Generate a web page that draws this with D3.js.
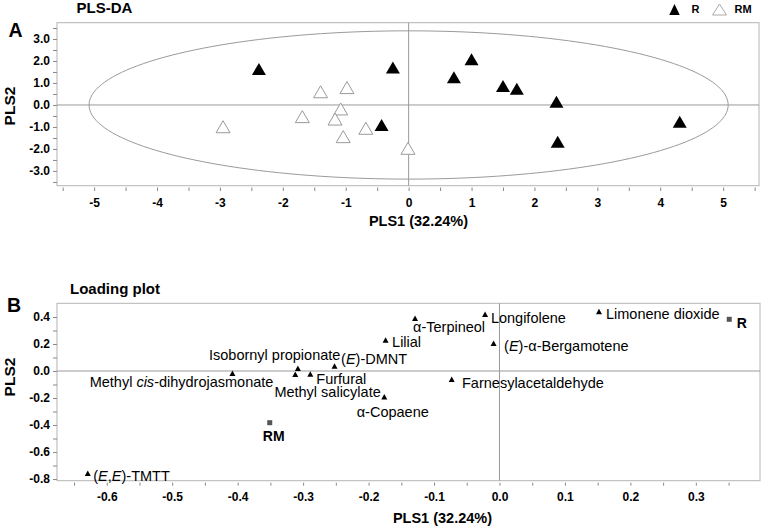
<!DOCTYPE html>
<html>
<head>
<meta charset="utf-8">
<script src="https://cdn.jsdelivr.net/npm/d3@7"></script>
<style>
  html, body { margin: 0; padding: 0; background: #fff; }
  svg { display: block; font-family: Arial, "Liberation Sans", sans-serif; }
</style>
</head>
<body>
<svg id="chart" width="761" height="526"></svg>
<script>
// ---------- DATA ----------
// Panel A: PLS-DA scores
const rScoresX  = [-2.38, -0.25, -0.43, 0.72, 1.00, 1.50, 1.72, 2.35, 2.37, 4.31];
const rScoresY  = [1.64, 1.70, -0.91, 1.26, 2.08, 0.86, 0.74, 0.15, -1.67, -0.76];
const rmScoresX = [-2.95, -1.69, -1.40, -0.98, -1.08, -1.17, -1.04, -0.68, -0.01];
const rmScoresY = [-0.99, -0.53, 0.60, 0.79, -0.18, -0.64, -1.44, -1.06, -1.97];
const ellipseRadii = [5.08, 3.37];
const groupNames = ["R", "RM"];
const xTickLabelsA = ["-5", "-4", "-3", "-2", "-1", "0", "1", "2", "3", "4", "5"];
const yTickLabelsA = ["-3.0", "-2.0", "-1.0", "0.0", "1.0", "2.0", "3.0"];

// Panel B: loading plot
const loadingNames = [
  "(<i>E</i>,<i>E</i>)-TMTT",
  "Methyl <i>cis</i>-dihydrojasmonate",
  "Isobornyl propionate",
  "Methyl salicylate",
  "Furfural",
  "(<i>E</i>)-DMNT",
  "α-Copaene",
  "Lilial",
  "α-Terpineol",
  "Longifolene",
  "(<i>E</i>)-α-Bergamotene",
  "Farnesylacetaldehyde",
  "Limonene dioxide"
];
const loadingX = [-0.629, -0.408, -0.308, -0.312, -0.289, -0.252, -0.176, -0.174, -0.129, -0.022, -0.009, -0.073, 0.152];
const loadingY = [-0.758, -0.017, 0.020, -0.024, -0.022, 0.037, -0.190, 0.230, 0.390, 0.420, 0.205, -0.061, 0.440];
const classNames = ["R", "RM"];
const classX = [0.351, -0.351];
const classY = [0.383, -0.383];
const xTickLabelsB = ["-0.6", "-0.5", "-0.4", "-0.3", "-0.2", "-0.1", "0.0", "0.1", "0.2", "0.3"];
const yTickLabelsB = ["-0.8", "-0.6", "-0.4", "-0.2", "0.0", "0.2", "0.4"];

// ---------- DRAWING ----------
const svg = d3.select("#chart");
const GRID = "#9a9a9a", BOX = "#b4b4b4";

function tri(w, h) {
  return `M0,${-h/2}L${w/2},${h/2}L${-w/2},${h/2}Z`;
}

function styleAxis(g, fs) {
  g.select(".domain").remove();
  g.selectAll(".tick line").attr("stroke", "#888");
  g.selectAll(".tick text").attr("font-size", fs).attr("font-weight", "bold")
    .attr("fill", "#000").attr("font-family", "Arial, 'Liberation Sans', sans-serif");
}

// ===== Panel A =====
const xA = d3.scaleLinear().domain([-5.59, 5.57]).range([57, 759]);
const yA = d3.scaleLinear().domain([-3.67, 3.74]).range([185.7, 22.7]);

svg.append("rect").attr("x", xA.range()[0]).attr("y", yA.range()[1])
  .attr("width", xA.range()[1] - xA.range()[0]).attr("height", yA.range()[0] - yA.range()[1])
  .attr("fill", "none").attr("stroke", BOX).attr("stroke-width", 1);

svg.append("line").attr("x1", xA(0)).attr("x2", xA(0)).attr("y1", yA.range()[1]).attr("y2", yA.range()[0])
  .attr("stroke", GRID);
svg.append("line").attr("x1", xA.range()[0]).attr("x2", xA.range()[1]).attr("y1", yA(0)).attr("y2", yA(0))
  .attr("stroke", GRID);

const ell = d3.range(0, 361, 2).map(a => [ellipseRadii[0] * Math.cos(a * Math.PI / 180), ellipseRadii[1] * Math.sin(a * Math.PI / 180)]);
svg.append("path").attr("d", d3.line().x(d => xA(d[0])).y(d => yA(d[1]))(ell))
  .attr("fill", "none").attr("stroke", GRID).attr("stroke-width", 1);

const xTicksA = d3.range(-5.5, 5.51, 0.5);
const xLabValsA = xTickLabelsA.map(Number);
const gxA = svg.append("g").attr("transform", "translate(0,187.5)")
  .call(d3.axisBottom(xA).tickValues(xTicksA).tickSize(3.5).tickPadding(7.5)
    .tickFormat(d => { const i = xLabValsA.findIndex(v => Math.abs(v - d) < 1e-6); return i >= 0 ? xTickLabelsA[i] : ""; }));
styleAxis(gxA, 12);

const yTicksA = d3.range(-3.5, 3.51, 0.5);
const yLabValsA = yTickLabelsA.map(Number);
const gyA = svg.append("g").attr("transform", `translate(${xA.range()[0]},0)`)
  .call(d3.axisLeft(yA).tickValues(yTicksA).tickSize(4).tickPadding(3)
    .tickFormat(d => { const i = yLabValsA.findIndex(v => Math.abs(v - d) < 1e-6); return i >= 0 ? yTickLabelsA[i] : ""; }));
styleAxis(gyA, 12);

// RM (open) then R (filled)
svg.append("g").selectAll("path").data(rmScoresX.map((x, i) => [x, rmScoresY[i]])).join("path")
  .attr("transform", d => `translate(${xA(d[0])},${yA(d[1])})`)
  .attr("d", tri(14, 12)).attr("fill", "#fff").attr("stroke", "#9a9a9a").attr("stroke-width", 1);
svg.append("g").selectAll("path").data(rScoresX.map((x, i) => [x, rScoresY[i]])).join("path")
  .attr("transform", d => `translate(${xA(d[0])},${yA(d[1])})`)
  .attr("d", tri(14, 12)).attr("fill", "#000");

// Legend
const lg = svg.append("g");
lg.append("path").attr("transform", "translate(674.5,9.5)").attr("d", tri(10.5, 11)).attr("fill", "#000");
lg.append("text").attr("x", 691.5).attr("y", 13.3).attr("font-size", 11).attr("font-weight", "bold").text(groupNames[0]);
lg.append("path").attr("transform", "translate(719.5,9.5)").attr("d", tri(14, 11)).attr("fill", "#fff").attr("stroke", "#aaa");
lg.append("text").attr("x", 734.5).attr("y", 13.3).attr("font-size", 11).attr("font-weight", "bold").text(groupNames[1]);

// Titles / labels A
svg.append("text").attr("x", 76.5).attr("y", 13).attr("font-size", 15).attr("font-weight", "bold").text("PLS-DA");
svg.append("text").attr("x", 8.5).attr("y", 37.3).attr("font-size", 19.5).attr("font-weight", "bold").text("A");
svg.append("text").attr("transform", "translate(15,106) rotate(-90)").attr("text-anchor", "middle")
  .attr("font-size", 15.5).attr("font-weight", "bold").text("PLS2");
svg.append("text").attr("x", 418.5).attr("y", 226).attr("text-anchor", "middle")
  .attr("font-size", 14.5).attr("font-weight", "bold").text("PLS1 (32.24%)");

// ===== Panel B =====
const xB = d3.scaleLinear().domain([-0.676, 0.398]).range([57, 760]);
const yB = d3.scaleLinear().domain([-0.8126, 0.5015]).range([480.7, 303.3]);

svg.append("rect").attr("x", xB.range()[0]).attr("y", yB.range()[1])
  .attr("width", xB.range()[1] - xB.range()[0]).attr("height", yB.range()[0] - yB.range()[1])
  .attr("fill", "none").attr("stroke", BOX).attr("stroke-width", 1);
svg.append("line").attr("x1", xB(0)).attr("x2", xB(0)).attr("y1", yB.range()[1]).attr("y2", yB.range()[0])
  .attr("stroke", GRID);
svg.append("line").attr("x1", xB.range()[0]).attr("x2", xB.range()[1]).attr("y1", yB(0)).attr("y2", yB(0))
  .attr("stroke", GRID);

const xTicksB = d3.range(-0.65, 0.351, 0.05);
const xLabValsB = xTickLabelsB.map(Number);
const gxB = svg.append("g").attr("transform", "translate(0,482.7)")
  .call(d3.axisBottom(xB).tickValues(xTicksB).tickSize(3).tickPadding(6.5)
    .tickFormat(d => { const i = xLabValsB.findIndex(v => Math.abs(v - d) < 1e-6); return i >= 0 ? xTickLabelsB[i] : ""; }));
styleAxis(gxB, 12);

const yTicksB = d3.range(-0.8, 0.41, 0.1);
const yLabValsB = yTickLabelsB.map(Number);
const gyB = svg.append("g").attr("transform", `translate(${xB.range()[0]},0)`)
  .call(d3.axisLeft(yB).tickValues(yTicksB).tickSize(4).tickPadding(3)
    .tickFormat(d => { const i = yLabValsB.findIndex(v => Math.abs(v - d) < 1e-6); return i >= 0 ? yTickLabelsB[i] : ""; }));
styleAxis(gyB, 12);

// label placement (anchor, dx, dy relative to marker)
const labelPlace = [
  ["start", 5.5, 2], ["end", 41, 8], ["end", 42.5, -14], ["end", 85.5, 18],
  ["start", 6, 4.5], ["start", 6.5, -7], ["middle", 8.5, 15.5], ["start", 6.5, 1.8],
  ["start", -2, 8.5], ["start", 5.8, 3], ["start", 10.5, 2.4], ["start", 10.3, 3.8],
  ["start", 7, 2.6]
];

const lp = svg.append("g");
loadingNames.forEach((name, i) => {
  const px = xB(loadingX[i]), py = yB(loadingY[i]);
  lp.append("path").attr("transform", `translate(${px},${py})`).attr("d", tri(6, 5.5)).attr("fill", "#000");
  const t = lp.append("text").attr("x", px + labelPlace[i][1]).attr("y", py + labelPlace[i][2])
    .attr("dy", "0.36em").attr("text-anchor", labelPlace[i][0]).attr("font-size", 14.5).attr("fill", "#000");
  name.split(/(<i>.*?<\/i>)/).filter(s => s.length).forEach(seg => {
    if (seg.startsWith("<i>")) t.append("tspan").attr("font-style", "italic").text(seg.slice(3, -4));
    else t.append("tspan").text(seg);
  });
});

// class squares
const classPlace = [["start", 7.5, 3.5], ["middle", 4, 13]];
classNames.forEach((name, i) => {
  const px = xB(classX[i]), py = yB(classY[i]);
  lp.append("rect").attr("x", px - 2.5).attr("y", py - 2.5).attr("width", 5).attr("height", 5).attr("fill", "#555");
  lp.append("text").attr("x", px + classPlace[i][1]).attr("y", py + classPlace[i][2]).attr("dy", "0.36em")
    .attr("text-anchor", classPlace[i][0]).attr("font-size", 14).attr("font-weight", "bold").text(name);
});

// Titles / labels B
svg.append("text").attr("x", 70).attr("y", 293.5).attr("font-size", 15).attr("font-weight", "bold").text("Loading plot");
svg.append("text").attr("x", 7).attr("y", 312.3).attr("font-size", 19.5).attr("font-weight", "bold").text("B");
svg.append("text").attr("transform", "translate(15,377) rotate(-90)").attr("text-anchor", "middle")
  .attr("font-size", 15.5).attr("font-weight", "bold").text("PLS2");
svg.append("text").attr("x", 442.5).attr("y", 523).attr("text-anchor", "middle")
  .attr("font-size", 14.5).attr("font-weight", "bold").text("PLS1 (32.24%)");
</script>
</body>
</html>
